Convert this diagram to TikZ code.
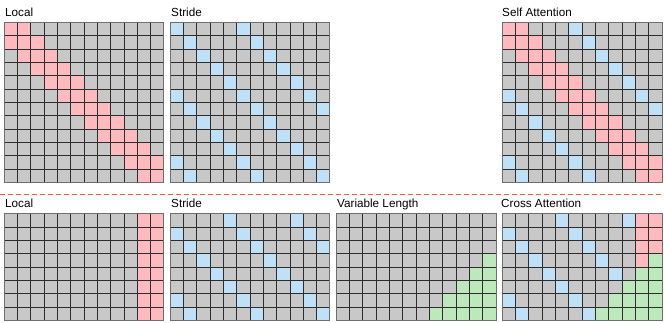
\documentclass[tikz,border=0pt]{standalone}
\usepackage{fontspec}
\setmainfont{Liberation Sans}
\definecolor{cellgray}{RGB}{200,200,200}
\definecolor{cellred}{RGB}{255,186,192}
\definecolor{cellblue}{RGB}{192,224,248}
\definecolor{cellgreen}{RGB}{188,232,188}
\definecolor{gridline}{RGB}{45,45,45}
\definecolor{gridborder}{RGB}{110,110,110}
\definecolor{sepred}{RGB}{240,90,70}
\def\cs{13.333}
\newcommand\mkgrid[5]{%
 \begin{scope}[shift={(#1,#2)}]
  \foreach \r in {0,...,#3}{
   \foreach \c in {0,...,11}{
    \pgfmathtruncatemacro\L{abs(\c-\r)<=1}
    \pgfmathtruncatemacro\S{(mod(\c-\r-#4+20,5)==0)&&(\c<=\r+#4+5)}
    \pgfmathtruncatemacro\B{\c>=10}
    \pgfmathtruncatemacro\V{\c+\r>=14}
    \pgfmathtruncatemacro\k{#5}
    \ifcase\k \def\cc{cellgray}\or\def\cc{cellred}\or\def\cc{cellblue}\or\def\cc{cellgreen}\fi
    \fill[\cc] ({\c*\cs},{\r*\cs}) rectangle ++(\cs,\cs);
   }}
  \foreach \i in {1,...,11}{\draw[gl] ({\i*\cs},0) -- ({\i*\cs},{(#3+1)*\cs});}
  \foreach \j in {1,...,#3}{\draw[gl] (0,{\j*\cs}) -- ({12*\cs},{\j*\cs});}
  \draw[gb] (0,0) rectangle ({12*\cs},{(#3+1)*\cs});
 \end{scope}}
\begin{document}
\begin{tikzpicture}[x=1pt,y=-1pt,
  gl/.style={draw=gridline,line width=0.8pt},
  gb/.style={draw=gridborder,line width=1pt},
  ttl/.style={anchor=base west,inner sep=0pt,font=\fontsize{11.7}{14}\selectfont},
  sep/.style={draw=sepred,line width=1pt,dash pattern=on 5pt off 3pt}]
\useasboundingbox (0,0) rectangle (664,322);
% top row
\mkgrid{4}{22.3}{11}{0}{\L?1:0}
\mkgrid{170}{22.3}{11}{0}{\S?2:0}
\mkgrid{502}{22.3}{11}{0}{\L?1:(\S?2:0)}
% bottom row
\mkgrid{4}{213.7}{7}{4}{\B?1:0}
\mkgrid{170}{213.7}{7}{4}{\S?2:0}
\mkgrid{336}{213.7}{7}{4}{\V?3:0}
\mkgrid{502}{213.7}{7}{4}{\V?3:(\B?1:(\S?2:0))}
% titles
\node[ttl] (t1) at (5,16.7) {Local};
\node[ttl] (t2) at (171,16.7) {Stride};
\node[ttl] (t3) at (502,16.7) {Self Attention};
\node[ttl] (b1) at (5,207.7) {Local};
\node[ttl] (b2) at (171,207.7) {Stride};
\node[ttl] (b3) at (337,207.7) {Variable Length};
\node[ttl] (b4) at (501,207.7) {Cross Attention};
% separator
\coordinate (sl) at (0,194);
\coordinate (sr) at (664,194);
\draw[sep] (sl) -- (sr);
\end{tikzpicture}
\end{document}
